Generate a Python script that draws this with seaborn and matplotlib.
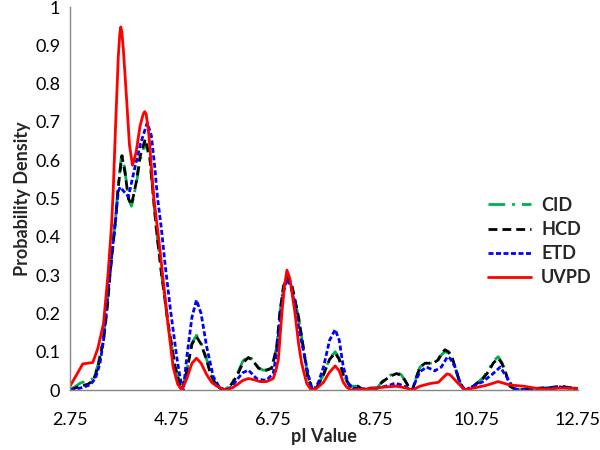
import pandas as pd
import seaborn as sns
import matplotlib
matplotlib.use("Agg")
import matplotlib.pyplot as plt

# values (pI value, probability density)
uvpd_x = [2.75, 2.88, 3.0, 3.1, 3.2, 3.3, 3.41, 3.5, 3.57, 3.6, 3.65, 3.7, 3.73, 3.75, 3.77, 3.8, 3.865,
          3.92, 3.98, 4.05, 4.13, 4.19, 4.22, 4.25, 4.3, 4.4, 4.5, 4.59, 4.68, 4.78, 4.87, 4.95, 5.05,
          5.15, 5.24, 5.33, 5.44, 5.54, 5.64, 5.75, 5.84, 5.95, 6.05, 6.15, 6.26, 6.37, 6.49, 6.62,
          6.75, 6.8, 6.85, 6.92, 6.97, 7.02, 7.08, 7.18, 7.25, 7.31, 7.41, 7.5, 7.6, 7.74, 7.85, 7.97,
          8.05, 8.13, 8.2, 8.28, 8.5, 8.7, 8.97, 9.18, 9.37, 9.49, 9.64, 9.84, 10.0, 10.1, 10.17, 10.23,
          10.33, 10.43, 10.53, 10.69, 10.94, 11.18, 11.41, 11.68, 11.94, 12.13, 12.4, 12.75]
uvpd_y = [0.01, 0.04, 0.068, 0.07, 0.072, 0.11, 0.174, 0.305, 0.435, 0.52, 0.70, 0.87, 0.93, 0.948,
          0.935, 0.89, 0.757, 0.64, 0.587, 0.62, 0.69, 0.72, 0.727, 0.72, 0.67, 0.50, 0.39, 0.28, 0.17,
          0.06, 0.015, 0.0, 0.03, 0.07, 0.083, 0.07, 0.04, 0.02, 0.01, 0.003, 0.0, 0.006, 0.015, 0.025,
          0.03, 0.027, 0.022, 0.022, 0.03, 0.05, 0.078, 0.2, 0.27, 0.313, 0.29, 0.2, 0.12, 0.07, 0.017,
          0.0, 0.004, 0.02, 0.045, 0.063, 0.05, 0.02, 0.007, 0.0, 0.002, 0.004, 0.008, 0.01, 0.005, 0.0,
          0.01, 0.017, 0.02, 0.033, 0.042, 0.04, 0.026, 0.012, 0.0, 0.005, 0.012, 0.022, 0.013, 0.01,
          0.004, 0.002, 0.005, 0.004]

hcd_x = [2.75, 2.95, 3.1, 3.21, 3.3, 3.41, 3.48, 3.54, 3.64, 3.7, 3.77, 3.83, 3.9, 3.96, 4.05, 4.13,
         4.23, 4.32, 4.38, 4.45, 4.55, 4.68, 4.82, 4.9, 4.96, 5.05, 5.15, 5.24, 5.33, 5.44, 5.52, 5.6,
         5.7, 5.8, 5.9, 6.03, 6.15, 6.26, 6.36, 6.46, 6.55, 6.62, 6.72, 6.82, 6.88, 6.95, 7.03, 7.11,
         7.18, 7.25, 7.34, 7.43, 7.52, 7.6, 7.74, 7.86, 7.97, 8.05, 8.13, 8.26, 8.42, 8.52, 8.65, 8.8,
         8.89, 9.05, 9.18, 9.27, 9.34, 9.43, 9.49, 9.56, 9.64, 9.74, 9.9, 9.99, 10.07, 10.13, 10.2,
         10.26, 10.36, 10.43, 10.53, 10.69, 10.88, 11.0, 11.08, 11.18, 11.25, 11.31, 11.41, 11.54,
         11.7, 12.0, 12.2, 12.4, 12.55, 12.75]
hcd_y = [0.0, 0.01, 0.015, 0.025, 0.06, 0.13, 0.21, 0.305, 0.435, 0.53, 0.612, 0.57, 0.5, 0.483, 0.54,
         0.61, 0.655, 0.61, 0.52, 0.42, 0.305, 0.174, 0.06, 0.02, 0.0, 0.05, 0.12, 0.139, 0.12, 0.078,
         0.04, 0.02, 0.005, 0.0, 0.01, 0.035, 0.07, 0.085, 0.075, 0.057, 0.052, 0.052, 0.057, 0.113,
         0.2, 0.27, 0.297, 0.278, 0.235, 0.19, 0.113, 0.035, 0.0, 0.005, 0.04, 0.08, 0.097, 0.08, 0.04,
         0.01, 0.01, 0.0, 0.005, 0.005, 0.02, 0.036, 0.043, 0.038, 0.026, 0.005, 0.0, 0.03, 0.06, 0.07,
         0.07, 0.078, 0.097, 0.105, 0.1, 0.09, 0.048, 0.017, 0.0, 0.01, 0.03, 0.05, 0.07, 0.083, 0.07,
         0.052, 0.01, 0.0, 0.002, 0.005, 0.006, 0.01, 0.007, 0.004]

cid_x = hcd_x
cid_y = [0.0, 0.018, 0.025, 0.03, 0.065, 0.14, 0.22, 0.31, 0.44, 0.535, 0.62, 0.575, 0.5, 0.48, 0.535,
         0.6, 0.645, 0.605, 0.52, 0.42, 0.305, 0.174, 0.06, 0.02, 0.0, 0.05, 0.122, 0.143, 0.123, 0.08,
         0.04, 0.02, 0.005, 0.0, 0.012, 0.038, 0.075, 0.09, 0.078, 0.058, 0.052, 0.052, 0.057, 0.113,
         0.2, 0.27, 0.295, 0.276, 0.232, 0.188, 0.113, 0.035, 0.0, 0.005, 0.04, 0.082, 0.1, 0.082,
         0.04, 0.01, 0.01, 0.0, 0.005, 0.005, 0.022, 0.038, 0.046, 0.04, 0.026, 0.005, 0.0, 0.03, 0.06,
         0.07, 0.07, 0.076, 0.093, 0.1, 0.097, 0.087, 0.046, 0.017, 0.0, 0.01, 0.032, 0.055, 0.075,
         0.087, 0.072, 0.052, 0.01, 0.0, 0.002, 0.005, 0.006, 0.01, 0.007, 0.004]

etd_x = [2.75, 2.95, 3.14, 3.25, 3.34, 3.41, 3.47, 3.57, 3.64, 3.7, 3.74, 3.8, 3.9, 4.03, 4.14, 4.27,
         4.35, 4.42, 4.47, 4.55, 4.62, 4.72, 4.85, 4.92, 4.98, 5.05, 5.15, 5.24, 5.33, 5.44, 5.57, 5.7,
         5.83, 5.93, 6.03, 6.15, 6.26, 6.35, 6.42, 6.55, 6.62, 6.75, 6.82, 6.88, 6.95, 7.03, 7.1, 7.18,
         7.27, 7.37, 7.44, 7.5, 7.55, 7.64, 7.74, 7.86, 7.97, 8.05, 8.13, 8.23, 8.33, 8.5, 8.75, 8.9,
         9.05, 9.15, 9.3, 9.42, 9.49, 9.56, 9.64, 9.77, 9.93, 10.06, 10.18, 10.23, 10.33, 10.4, 10.48,
         10.53, 10.69, 10.88, 11.08, 11.22, 11.35, 11.48, 11.6, 12.0, 12.4, 12.6, 12.75]
etd_y = [0.0, 0.005, 0.013, 0.03, 0.07, 0.13, 0.217, 0.35, 0.435, 0.52, 0.53, 0.52, 0.505, 0.583, 0.644,
         0.698, 0.665, 0.58, 0.505, 0.42, 0.33, 0.217, 0.087, 0.03, 0.0, 0.087, 0.19, 0.235, 0.2, 0.113,
         0.035, 0.005, 0.0, 0.008, 0.026, 0.045, 0.052, 0.04, 0.03, 0.026, 0.026, 0.043, 0.1, 0.18,
         0.255, 0.29, 0.27, 0.22, 0.15, 0.087, 0.04, 0.01, 0.0, 0.02, 0.06, 0.13, 0.158, 0.13, 0.06,
         0.017, 0.005, 0.003, 0.004, 0.008, 0.013, 0.018, 0.012, 0.004, 0.0, 0.025, 0.048, 0.06, 0.05,
         0.06, 0.087, 0.083, 0.06, 0.03, 0.005, 0.0, 0.01, 0.022, 0.043, 0.06, 0.033, 0.005, 0.0, 0.003,
         0.008, 0.005, 0.003]

methods = ["CID", "HCD", "ETD", "UVPD"]
series = {"CID": (cid_x, cid_y), "HCD": (hcd_x, hcd_y), "ETD": (etd_x, etd_y), "UVPD": (uvpd_x, uvpd_y)}

rows = []
for m in methods:
    xs, ys = series[m]
    for a, b in zip(xs, ys):
        rows.append({"pI": a, "density": b, "method": m})
df = pd.DataFrame(rows)

sns.set_theme(style="white")
plt.rcParams["font.family"] = ["Lato", "DejaVu Sans"]

colors = {"CID": "#00b050", "HCD": "#000000", "ETD": "#0000ff", "UVPD": "#ff0000"}
dash_styles = {"CID": (6, 2.5, 1, 2.5), "HCD": (3.2, 1.8), "ETD": (1.8, 0.9), "UVPD": ""}

fig = plt.figure(figsize=(6, 4.5), dpi=100)
ax = fig.add_axes([0.1167, 0.1333, 0.8466, 0.851])

sns.lineplot(data=df, x="pI", y="density", hue="method", style="method",
             hue_order=methods, style_order=methods, palette=colors, dashes=dash_styles,
             estimator=None, sort=False, linewidth=2.0, ax=ax)

ax.set_xlim(2.75, 12.75)
ax.set_ylim(0, 1)
ax.set_xticks([2.75, 4.75, 6.75, 8.75, 10.75, 12.75])
ax.set_xticklabels(["2.75", "4.75", "6.75", "8.75", "10.75", "12.75"])
ax.set_yticks([i / 10 for i in range(11)])
ax.set_yticklabels(["0"] + ["0.%d" % i for i in range(1, 10)] + ["1"])

for s in ["top", "right"]:
    ax.spines[s].set_visible(False)
for s in ["left", "bottom"]:
    ax.spines[s].set_color("#868686")
    ax.spines[s].set_linewidth(1.0)
ax.tick_params(axis="both", direction="out", length=4, width=1, color="#868686",
               labelsize=13, labelcolor="black")
ax.tick_params(axis="x", pad=12)
ax.tick_params(axis="y", pad=3)

ax.set_xlabel("pI Value", fontsize=13, fontweight="bold", labelpad=0)
ax.set_ylabel("Probability Density", fontsize=13, fontweight="bold", labelpad=3)

ax.legend(handles=ax.get_legend_handles_labels()[0], labels=methods,
          loc="upper left", bbox_to_anchor=(0.813, 0.563), bbox_transform=fig.transFigure,
          frameon=False, borderpad=0, borderaxespad=0, handlelength=2.4, handletextpad=0.55,
          labelspacing=0.4, prop={"weight": "bold", "size": 13})

fig.savefig("out.png", dpi=100)
